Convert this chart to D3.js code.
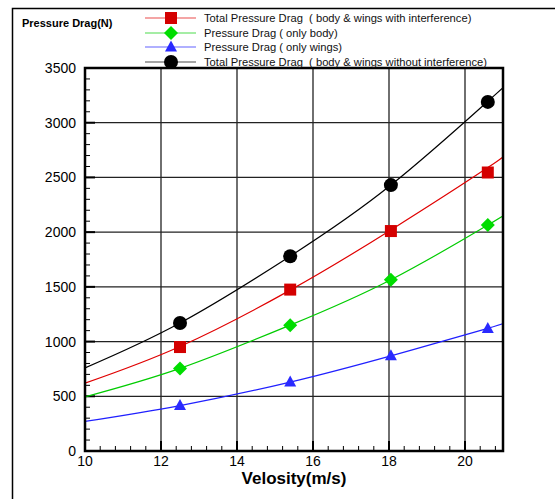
<!DOCTYPE html>
<meta charset="utf-8">
<title>Pressure Drag vs Velosity</title>
<style>

body {
  margin: 0;
  background: #fff;
}

svg {
  font-family: "Liberation Sans", Arial, sans-serif;
}

.grid line {
  stroke: #222;
  stroke-width: 1.3;
}

.frame {
  fill: none;
  stroke: #000;
}

.legend text {
  white-space: pre;
}

</style>
<body>
<script src="https://d3js.org/d3.v7.min.js"></script>
<script>

// marker positions (m/s)
var velocity = [12.5, 15.4, 18.05, 20.6];

// measured values (N)
var withInterference = [950, 1475, 2010, 2545];
var onlyBody = [755, 1150, 1565, 2065];
var onlyWings = [415, 630, 870, 1120];
var withoutInterference = [1170, 1780, 2430, 3190];

// fitted curves
var curveX = [10, 12.5, 15.4, 18.05, 20.6, 21];
var curveWith = [620, 955, 1470, 2020, 2590, 2700];
var curveBody = [495, 755, 1150, 1565, 2065, 2150];
var curveWings = [270, 415, 630, 870, 1120, 1170];
var curveWithout = [760, 1170, 1780, 2430, 3195, 3318];

var xTicks = [10, 12, 14, 16, 18, 20];
var yTicks = [0, 500, 1000, 1500, 2000, 2500, 3000, 3500];

var legendLabels = [
  "Total Pressure Drag  ( body & wings with interference)",
  "Pressure Drag ( only body)",
  "Pressure Drag ( only wings)",
  "Total Pressure Drag  ( body & wings without interference)"
];

var series = [
  {label: legendLabels[0], color: "#e00000", fill: "#d40000", marker: "square", values: withInterference, curve: curveWith},
  {label: legendLabels[1], color: "#00cc00", fill: "#00dd00", marker: "diamond", values: onlyBody, curve: curveBody},
  {label: legendLabels[2], color: "#2020ff", fill: "#2a2aff", marker: "triangle", values: onlyWings, curve: curveWings},
  {label: legendLabels[3], color: "#000", fill: "#000", marker: "circle", values: withoutInterference, curve: curveWithout}
];

var width = 555,
    height = 499,
    plot = {left: 85, right: 503, top: 68, bottom: 451};

var x = d3.scaleLinear()
    .domain([10, 21])
    .range([plot.left, plot.right]);

var y = d3.scaleLinear()
    .domain([0, 3500])
    .range([plot.bottom, plot.top]);

var svg = d3.select("body").append("svg")
    .attr("width", width)
    .attr("height", height);

// outer frame
svg.append("path")
    .attr("class", "frame")
    .attr("stroke-width", 1.5)
    .attr("d", "M12.5," + height + "V8.5H" + width);

// grid
var grid = svg.append("g").attr("class", "grid");

grid.selectAll(".vx")
    .data(xTicks.filter(function(d) { return d > 10; }))
  .enter().append("line")
    .attr("x1", function(d) { return x(d); })
    .attr("x2", function(d) { return x(d); })
    .attr("y1", plot.top)
    .attr("y2", plot.bottom);

grid.selectAll(".hy")
    .data(yTicks.filter(function(d) { return d > 0 && d < 3500; }))
  .enter().append("line")
    .attr("x1", plot.left)
    .attr("x2", plot.right)
    .attr("y1", function(d) { return y(d); })
    .attr("y2", function(d) { return y(d); });

// minor / major ticks (inside)
var ticks = svg.append("g").attr("stroke", "#000");

ticks.selectAll(".ymin")
    .data(d3.range(0, 3501, 100))
  .enter().append("line")
    .attr("x1", plot.left)
    .attr("x2", function(d) { return plot.left + (d % 500 === 0 ? 10 : 5); })
    .attr("y1", function(d) { return y(d); })
    .attr("y2", function(d) { return y(d); })
    .attr("stroke-width", function(d) { return d % 500 === 0 ? 2 : 1; });

ticks.selectAll(".xmin")
    .data(d3.range(0, 28).map(function(i) { return 10 + i * 0.4; }))
  .enter().append("line")
    .attr("x1", function(d) { return x(d); })
    .attr("x2", function(d) { return x(d); })
    .attr("y1", plot.bottom)
    .attr("y2", function(d, i) { return plot.bottom - (i % 5 === 0 ? 10 : 5); })
    .attr("stroke-width", function(d, i) { return i % 5 === 0 ? 2 : 1; });

// tick labels
svg.append("g")
    .selectAll("text")
    .data(yTicks)
  .enter().append("text")
    .attr("x", plot.left - 9)
    .attr("y", function(d) { return y(d) + 5; })
    .attr("text-anchor", "end")
    .attr("font-size", 14)
    .text(function(d) { return d; });

svg.append("g")
    .selectAll("text")
    .data(xTicks)
  .enter().append("text")
    .attr("x", function(d) { return x(d); })
    .attr("y", plot.bottom + 15)
    .attr("text-anchor", "middle")
    .attr("font-size", 14)
    .text(function(d) { return d; });

// curves
var line = d3.line()
    .x(function(d) { return x(d[0]); })
    .y(function(d) { return y(d[1]); })
    .curve(d3.curveNatural);

svg.append("defs").append("clipPath")
    .attr("id", "clip")
  .append("rect")
    .attr("x", plot.left)
    .attr("y", plot.top)
    .attr("width", plot.right - plot.left)
    .attr("height", plot.bottom - plot.top);

svg.append("g")
    .attr("clip-path", "url(#clip)")
    .selectAll("path")
    .data(series)
  .enter().append("path")
    .attr("fill", "none")
    .attr("stroke", function(d) { return d.color; })
    .attr("stroke-width", 1.2)
    .attr("d", function(s) { return line(d3.zip(curveX, s.curve)); });

// axis frame
svg.append("rect")
    .attr("class", "frame")
    .attr("x", plot.left)
    .attr("y", plot.top)
    .attr("width", plot.right - plot.left)
    .attr("height", plot.bottom - plot.top)
    .attr("stroke-width", 2.5);

// markers
function drawMarker(g, type, fill) {
  if (type === "square") {
    g.append("rect").attr("x", -6).attr("y", -6).attr("width", 12).attr("height", 12).attr("fill", fill);
  } else if (type === "diamond") {
    g.append("path").attr("d", "M0,-7L7,0L0,7L-7,0Z").attr("fill", fill);
  } else if (type === "triangle") {
    g.append("path").attr("d", "M0,-6.5L6,4.5L-6,4.5Z").attr("fill", fill);
  } else {
    g.append("circle").attr("r", 7).attr("fill", fill);
  }
}

series.forEach(function(s) {
  s.values.forEach(function(v, i) {
    var g = svg.append("g")
        .attr("transform", "translate(" + x(velocity[i]) + "," + y(v) + ")");
    drawMarker(g, s.marker, s.fill);
  });
});

// axis titles
svg.append("text")
    .attr("x", (plot.left + plot.right) / 2)
    .attr("y", 484)
    .attr("text-anchor", "middle")
    .attr("font-size", 17)
    .attr("font-weight", "bold")
    .text("Velosity(m/s)");

svg.append("text")
    .attr("x", 22)
    .attr("y", 27)
    .attr("font-size", 11)
    .attr("font-weight", "bold")
    .text("Pressure Drag(N)");

// legend
var legendY = [18, 33, 47, 62];

var legend = svg.append("g")
    .attr("class", "legend")
    .selectAll("g")
    .data(series)
  .enter().append("g")
    .attr("transform", function(d, i) { return "translate(0," + legendY[i] + ")"; });

legend.append("line")
    .attr("x1", 145)
    .attr("x2", 196)
    .attr("stroke", function(d) { return d.color; })
    .attr("stroke-opacity", 0.7)
    .attr("stroke-width", 1.2);

legend.each(function(d) {
  var g = d3.select(this).append("g").attr("transform", "translate(171,0)");
  drawMarker(g, d.marker, d.fill);
});

legend.append("text")
    .attr("x", 204)
    .attr("y", 4)
    .attr("font-size", 11.2)
    .attr("fill", "#111")
    .text(function(d) { return d.label; });

</script>
